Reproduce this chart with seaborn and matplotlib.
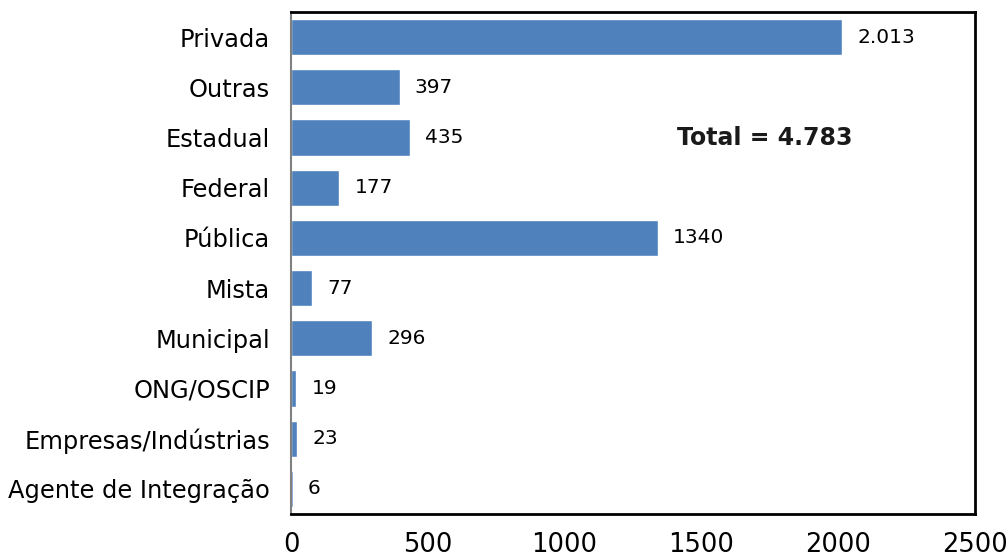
import matplotlib
matplotlib.use("Agg")
import matplotlib.pyplot as plt
import seaborn as sns
import pandas as pd

# dados
categorias = ["Privada", "Outras", "Estadual", "Federal", "Pública", "Mista",
              "Municipal", "ONG/OSCIP", "Empresas/Indústrias", "Agente de Integração"]
valores = [2013, 397, 435, 177, 1340, 77, 296, 19, 23, 6]
rotulos = ["2.013", "397", "435", "177", "1340", "77", "296", "19", "23", "6"]
x_ticks = [0, 500, 1000, 1500, 2000, 2500]
total_txt = "Total = 4.783"

sns.set_style("white")
plt.rcParams['font.family'] = ['DejaVu Sans']

df = pd.DataFrame({"cat": categorias, "val": valores})

fig = plt.figure(figsize=(10.08, 5.57), dpi=100)
ax = fig.add_axes([0.2887, 0.0772, 0.6786, 0.9013])

sns.barplot(data=df, x="val", y="cat", orient="h", color="#4F81BD",
            saturation=1, width=0.72, ax=ax)

# rotulos de valor ao lado das barras
for i, (v, r) in enumerate(zip(valores, rotulos)):
    ax.annotate(r, xy=(v, i), xytext=(11, 0), textcoords="offset points",
                va="center", ha="left", fontsize=14.5, color="black")

ax.text(0.693, 0.749, total_txt, transform=ax.transAxes, fontsize=17,
        fontweight="bold", ha="center", va="center", color="#1a1a1a")

ax.set_xlim(0, 2500)
ax.set_ylim(len(categorias) - 0.5, -0.5)
ax.set_xticks(x_ticks)
ax.set_xticklabels([str(t) for t in x_ticks], fontsize=18.5, color="black")
ax.set_xlabel("")
ax.set_ylabel("")

# ticks do eixo y entre categorias
ax.set_yticks(range(len(categorias)))
ax.set_yticklabels(categorias, fontsize=17.4, color="black")
ax.tick_params(axis="y", length=0, pad=15)
ax.set_yticks([i - 0.5 for i in range(len(categorias) + 1)], minor=True)
ax.tick_params(axis="y", which="minor", length=6, color="#808080", width=1, direction="out")
ax.tick_params(axis="x", length=6, color="#808080", width=1, direction="out", pad=7)

for s in ["top", "right", "bottom"]:
    ax.spines[s].set_color("black")
    ax.spines[s].set_linewidth(2)
ax.spines["left"].set_color("#808080")
ax.spines["left"].set_linewidth(1.5)

plt.savefig("out.png", dpi=100)
